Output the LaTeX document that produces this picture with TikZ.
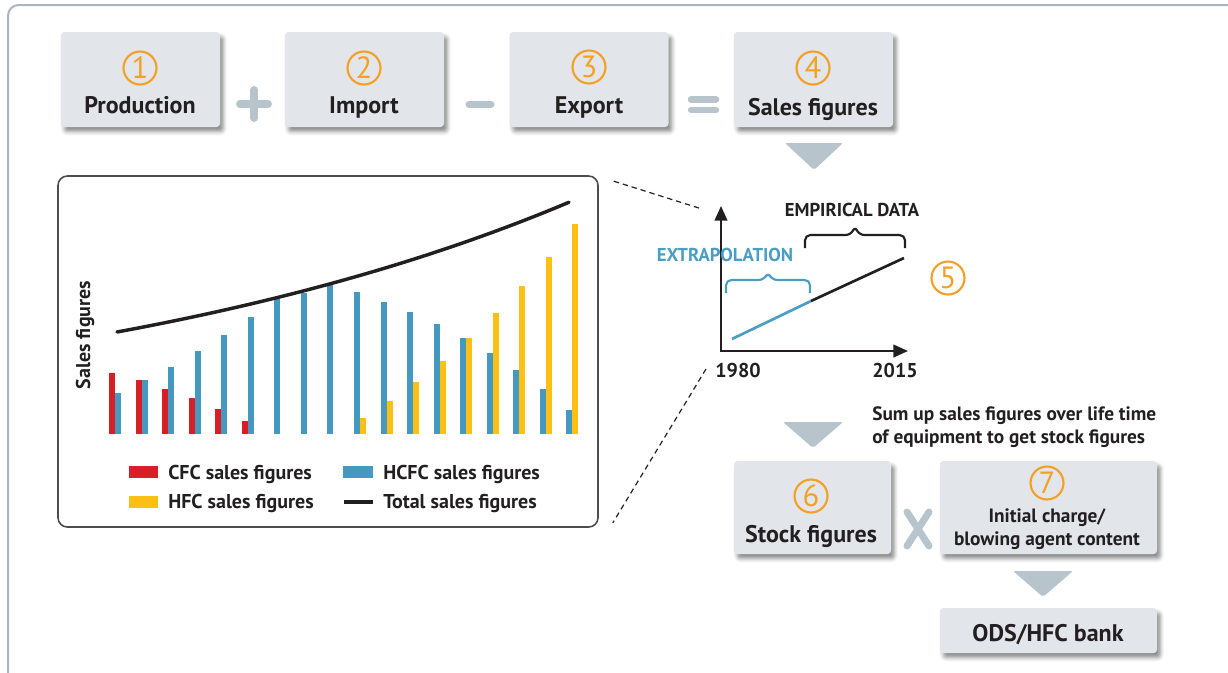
\documentclass[tikz,border=0pt]{standalone}
\usepackage{fontspec}
\setmainfont{PT Sans}
\usetikzlibrary{shadows.blur,arrows.meta,calc}

\definecolor{boxfill}{HTML}{E2E6EA}
\definecolor{opgray}{HTML}{B8C4CC}
\definecolor{framegray}{HTML}{A9B6C1}
\definecolor{numorange}{HTML}{F4A025}
\definecolor{cfcred}{HTML}{D81E27}
\definecolor{hcfcblue}{HTML}{4599BF}
\definecolor{hfcyellow}{HTML}{FCBF13}
\definecolor{ink}{HTML}{231F20}
\definecolor{extblue}{HTML}{4A9DC3}

\begin{document}
\begin{tikzpicture}[x=0.75pt,y=-0.75pt,
  stepbox/.style={fill=boxfill, rounded corners=2.5pt, inner sep=0pt,
    blur shadow={shadow xshift=2.5pt, shadow yshift=-3.5pt, shadow opacity=45, shadow blur radius=3pt}},
  bigtext/.style={font=\bfseries\fontsize{18}{21}\selectfont, text=ink, inner sep=0pt},
  midtext/.style={font=\bfseries\fontsize{14.5}{17}\selectfont, text=ink, inner sep=0pt},
  legtext/.style={font=\bfseries\fontsize{15}{18}\selectfont, text=ink, inner sep=0pt},
  captext/.style={font=\bfseries\fontsize{14}{17}\selectfont, text=ink, inner sep=0pt},
  numcircle/.style={circle, draw=numorange, line width=1.6pt, minimum size=33*0.75pt,
    inner sep=0pt, text=numorange, font=\fontsize{23}{23}\selectfont},
  opsign/.style={opgray, line width=8*0.75pt, line cap=round},
  arrowtri/.style={fill=opgray, rounded corners=1.5pt},
  axisline/.style={ink, line width=1.5pt, {Triangle[length=11pt,width=9.5pt]}-{Triangle[length=11pt,width=9.5pt]}},
  bracepath/.style={line width=1.6pt, rounded corners=4pt},
  guide/.style={ink, line width=0.9pt, dash pattern=on 4pt off 3pt}
]
\useasboundingbox (0,0) rectangle (1228,672);
\clip (0,0) rectangle (1228,672);

% outer frame
\draw[framegray, line width=1.5pt, rounded corners=8pt] (8,720) -- (8,5) -- (1260,5);

% ---- top row: production + import - export = sales figures
\node[stepbox, minimum width=159*0.75pt, minimum height=95*0.75pt] (b1) at (140.5,79.5) {};
\node[stepbox, minimum width=159*0.75pt, minimum height=95*0.75pt] (b2) at (364.5,79.5) {};
\node[stepbox, minimum width=159*0.75pt, minimum height=95*0.75pt] (b3) at (589,79.5) {};
\node[stepbox, minimum width=159*0.75pt, minimum height=95*0.75pt] (b4) at (813.5,79.5) {};

\node[numcircle] (n1) at (140,68) {1};
\node[numcircle] (n2) at (364,68) {2};
\node[numcircle] (n3) at (589,67) {3};
\node[numcircle] (n4) at (813,68) {4};

\node[bigtext, anchor=base] (t1) at (140,113) {Production};
\node[bigtext, anchor=base] (t2) at (364,113) {Import};
\node[bigtext, anchor=base] (t3) at (589,113) {Export};
\node[bigtext, anchor=base] (t4) at (813,115) {Sales figures};

% operators
\draw[opsign] (240,104) -- (268,104);
\draw[opsign] (254,90) -- (254,118);
\draw[opsign, line width=7*0.75pt] (469,104.5) -- (491,104.5);
\draw[opsign, line width=6.5*0.75pt] (691,99.5) -- (716,99.5);
\draw[opsign, line width=6.5*0.75pt] (691,110) -- (716,110);

% arrow below sales figures
\fill[arrowtri] (785,143) -- (843,143) -- (814,170) -- cycle;

% ---- chart panel
\node[draw=ink!80, line width=1.2pt, rounded corners=7pt, minimum width=540*0.75pt,
      minimum height=351*0.75pt, inner sep=0pt] (chart) at (328,351.5) {};

% CFC bars
\foreach \i/\t in {0/373,1/380,2/389,3/398,4/409,5/421}
  \fill[cfcred] ({109+26.55*\i},\t) rectangle ({115+26.55*\i},434);
% HCFC bars
\foreach \i/\t in {0/393,1/380,2/367,3/351,4/335,5/317,6/299,7/293,8/285,
                   9/292,10/302,11/312,12/324,13/338,14/353,15/370,16/389,17/410}
  \fill[hcfcblue] ({115+26.55*\i},\t) rectangle ({121+26.55*\i},434);
% HFC bars
\foreach \i/\t in {9/418,10/401,11/382,12/361,13/338,14/313,15/286,16/257,17/224}
  \fill[hfcyellow] ({121+26.55*\i},\t) rectangle ({127+26.55*\i},434);

% total sales curve
\draw[ink, line width=2.6pt, line cap=round]
  plot[domain=117:569, samples=60] (\x, {434-102*exp(0.00182*(\x-117))});

\node[legtext, rotate=90] (ylab) at (85,335) {Sales figures};

% legend
\fill[cfcred] (129,466) rectangle (158,478);
\node[legtext, anchor=base west] (lcfc) at (168,479) {CFC sales figures};
\fill[hcfcblue] (343,466) rectangle (373,478);
\node[legtext, anchor=base west] (lhcfc) at (383,479) {HCFC sales figures};
\fill[hfcyellow] (129,496) rectangle (158,508);
\node[legtext, anchor=base west] (lhfc) at (168,508) {HFC sales figures};
\draw[ink, line width=2.6pt] (344,502) -- (373,502);
\node[legtext, anchor=base west] (ltot) at (383,508) {Total sales figures};

% ---- extrapolation sketch
\coordinate (O) at (721,351);
\coordinate (ytip) at (721,206);
\coordinate (xtip) at (908,351);
\draw[axisline] (ytip) -- (O) -- (xtip);
\coordinate (e0) at (732,339);
\coordinate (e1) at (811,301);
\coordinate (e2) at (904,258);
\draw[extblue, line width=2pt] (e0) -- (e1);
\draw[ink, line width=2pt] (e1) -- (e2);

\draw[bracepath, extblue] (726,293) -- (726,280) -- (764,280) -- (768,272) -- (772,280) -- (810,280) -- (810,293);
\draw[bracepath, ink] (805,248) -- (805,235) -- (851,235) -- (855,226) -- (859,235) -- (905,235) -- (905,248);

\node[captext, anchor=base, text=extblue] (ext) at (725,261) {EXTRAPOLATION};
\node[captext, anchor=base] (emp) at (852,216) {EMPIRICAL DATA};
\node[legtext, anchor=base] (y1) at (738,377) {1980};
\node[legtext, anchor=base] (y2) at (895,377) {2015};
\node[numcircle] (n5) at (948,278) {5};

% guides from the chart panel to the sketch
\coordinate (gA) at ($(chart.north east)+(15,6)$);
\coordinate (gB) at (702,209);
\coordinate (gC) at (706,369);
\coordinate (gD) at ($(chart.south east)+(14,-5)$);
\draw[guide] (gA) -- (gB);
\draw[guide] (gC) -- (gD);

% ---- stock and bank
\fill[arrowtri] (783,422) -- (843,422) -- (813,448) -- cycle;
\node[midtext, anchor=base west, align=left] (sum1) at (872,420) {Sum up sales figures over life time};
\node[midtext, anchor=base west, align=left] (sum2) at (872,443) {of equipment to get stock figures};

\node[stepbox, minimum width=157*0.75pt, minimum height=93*0.75pt] (b6) at (812.5,507.5) {};
\node[stepbox, minimum width=217*0.75pt, minimum height=93*0.75pt] (b7) at (1048.5,507.5) {};
\node[stepbox, minimum width=217*0.75pt, minimum height=45*0.75pt] (b8) at (1048.5,630.5) {};

\node[numcircle] (n6) at (811,496) {6};
\node[bigtext, anchor=base] (t6) at (811,542) {Stock figures};
\node[numcircle] (n7) at (1047,483) {7};
\node[midtext, anchor=base] (t7a) at (1047,522) {Initial charge/};
\node[midtext, anchor=base] (t7b) at (1047,545) {blowing agent content};
\node[bigtext, anchor=base] (t8) at (1048,641) {ODS/HFC bank};

% times sign
\draw[opsign, line width=7*0.75pt] (907,512) -- (929,546);
\draw[opsign, line width=7*0.75pt] (929,512) -- (907,546);

\fill[arrowtri] (1013,571) -- (1073,571) -- (1043,597) -- cycle;

\end{tikzpicture}
\end{document}
